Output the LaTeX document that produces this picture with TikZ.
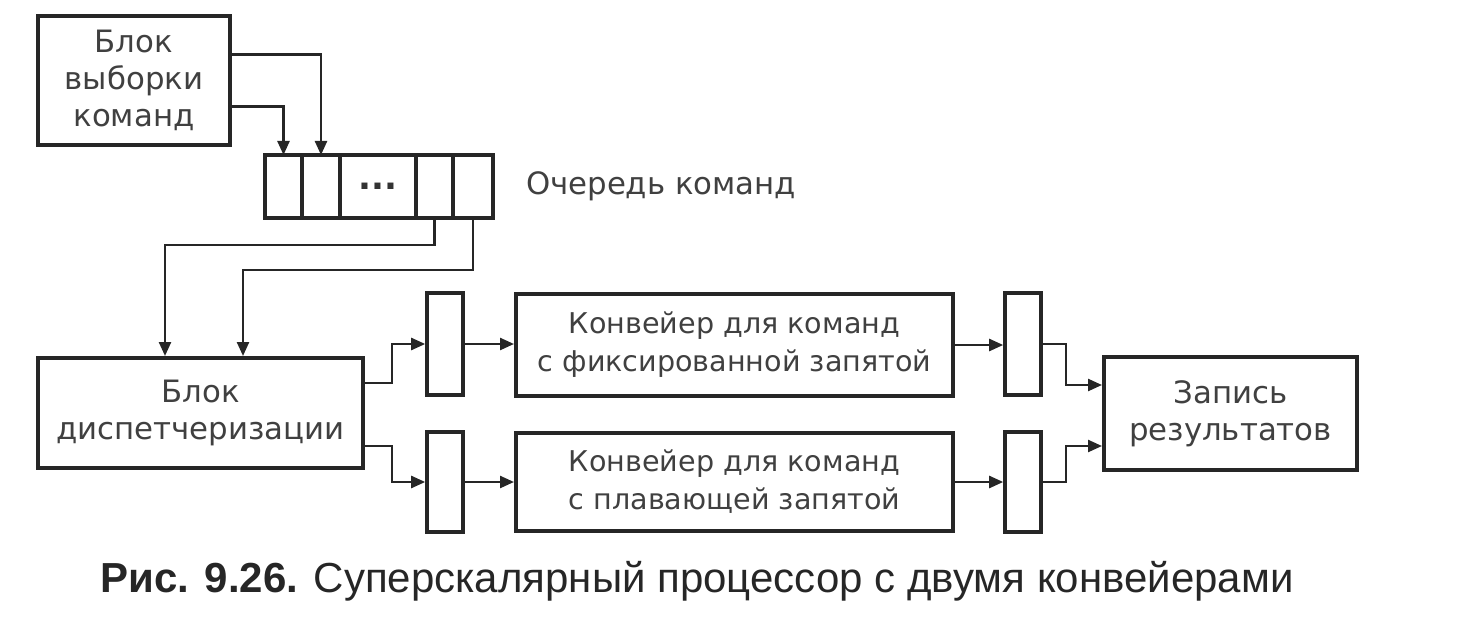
\documentclass[tikz,border=0pt]{standalone}
\usepackage{fontspec}
\setmainfont{Liberation Sans}
\newfontfamily\diagfont{DejaVu Sans}
\usetikzlibrary{arrows.meta, positioning}

\begin{document}
\begin{tikzpicture}[x=0.5pt, y=-0.5pt,
  box/.style={draw=black!85, line width=2pt, align=center, font=\diagfont\fontsize{15.4}{18.5}\selectfont, text=black!75, inner sep=0pt},
  cell/.style={draw=black!85, line width=1.8pt, minimum height=31.5pt, inner sep=0pt, outer sep=0pt},
  reg/.style={draw=black!85, line width=1.8pt, minimum width=18pt, inner sep=0pt},
  conn/.style={draw=black!85, line width=1.2pt, -{Triangle[length=7pt, width=6pt]}},
]
\useasboundingbox (0,0) rectangle (1460,620);
\node[box, minimum width=96pt, minimum height=64.5pt] (fetch) at (134,80.5) {Блок\\выборки\\команд};
\node[cell, minimum width=18.5pt] (q1) at (283.5,186.5) {};
\node[cell, minimum width=19pt, right=0pt of q1] (q2) {};
\node[cell, minimum width=38pt, right=0pt of q2, font=\diagfont\bfseries\fontsize{17}{17}\selectfont, text=black!80] (q3) {...};
\node[cell, minimum width=18.5pt, right=0pt of q3] (q4) {};
\node[cell, minimum width=20pt, right=0pt of q4] (q5) {};
\node[font=\diagfont\fontsize{15.4}{18.5}\selectfont, text=black!75, right=13pt of q5] (qlbl) {Очередь команд};
\node[box, minimum width=162.5pt, minimum height=55pt] (disp) at (200.5,413) {Блок\\диспетчеризации};
\node[reg, minimum height=51pt] (rA1) at (445,344) {};
\node[reg, minimum height=50pt] (rA2) at (445,482) {};
\node[box, minimum width=218.5pt, minimum height=51pt, font=\diagfont\fontsize{14.3}{19}\selectfont] (pipe1) at (734.5,345) {Конвейер для команд\\с фиксированной запятой};
\node[box, minimum width=218.5pt, minimum height=49pt, font=\diagfont\fontsize{14.3}{19}\selectfont] (pipe2) at (734.5,482) {Конвейер для команд\\с плавающей запятой};
\node[reg, minimum height=51pt] (rB1) at (1023,344) {};
\node[reg, minimum height=50pt] (rB2) at (1023,482) {};
\node[box, minimum width=126.5pt, minimum height=56.5pt] (res) at (1230.5,413.5) {Запись\\результатов};
\node[font=\fontsize{21}{25}\selectfont, text=black!85] (cap) at (697,581) {\textbf{Рис. 9.26.} Суперскалярный процессор с двумя конвейерами};

\draw[conn] ([yshift=13pt]fetch.east) -| (q2.north);
\draw[conn] ([yshift=-13pt]fetch.east) -| (q1.north);
\draw[conn] (q4.south) -- ++(0,27) -| ([xshift=-17.75pt]disp.north);
\draw[conn] (q5.south) -- ++(0,52) -| ([xshift=21.25pt]disp.north);
\draw[conn] ([yshift=15pt]disp.east) -- ++(27,0) |- (rA1.west);
\draw[conn] ([yshift=-16.5pt]disp.east) -- ++(27,0) |- (rA2.west);
\draw[conn] (rA1.east) -- (pipe1.west |- rA1.east);
\draw[conn] (rA2.east) -- (pipe2.west);
\draw[conn] (pipe1.east) -- (rB1.west |- pipe1.east);
\draw[conn] (pipe2.east) -- (rB2.west);
\draw[conn] (rB1.east) -- ++(23,0) |- ([yshift=14.25pt]res.west);
\draw[conn] (rB2.east) -- ++(23,0) |- ([yshift=-16.25pt]res.west);
\end{tikzpicture}
\end{document}
